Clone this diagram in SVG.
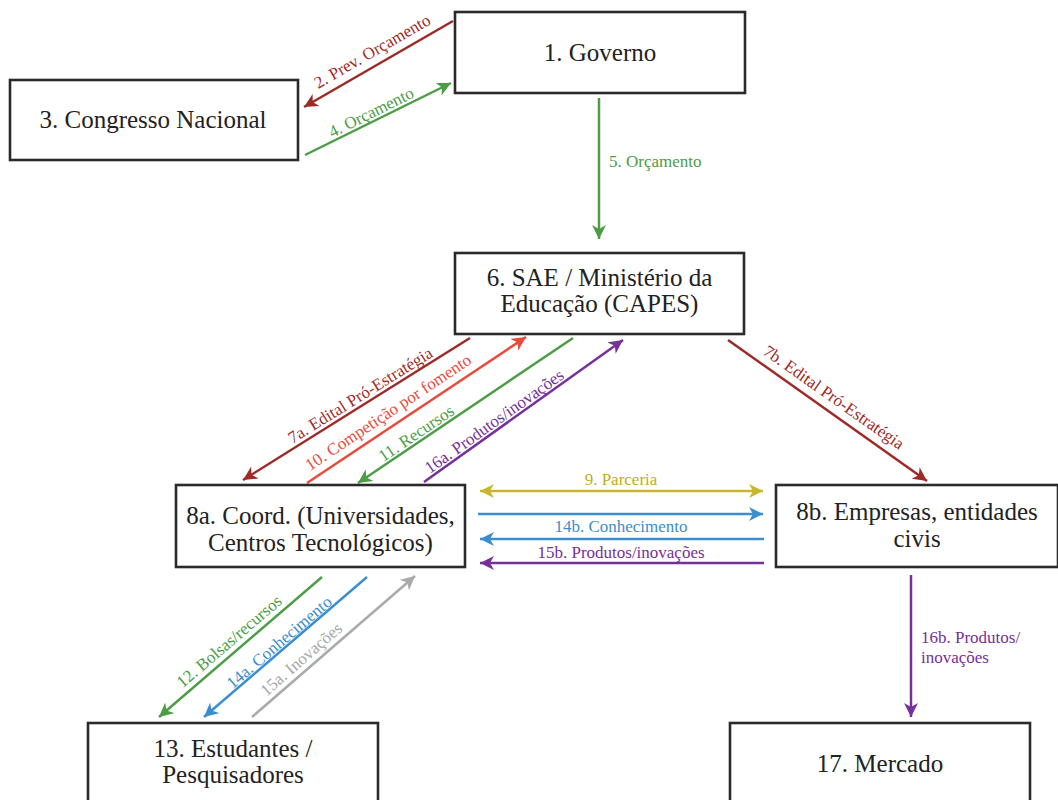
<svg xmlns="http://www.w3.org/2000/svg" width="1058" height="800" viewBox="0 0 1058 800">
<style>
.box{fill:#fff;stroke:#2a2a2a;stroke-width:2.6}
.nt{font-family:'Liberation Serif','Times New Roman',serif;font-size:25px;fill:#222;text-anchor:middle}
.lt{font-family:'Liberation Serif','Times New Roman',serif;font-size:17px}
.c{fill:none;stroke-width:2.5}
.dr{stroke:#9e2a27}.g{stroke:#4c9d45}.r{stroke:#ea4a3c}.p{stroke:#76309a}.b{stroke:#3a8ecf}.y{stroke:#c8b72c}.gr{stroke:#aaaaaa}
.tdr{fill:#9e2a27}.tg{fill:#4c9d45}.tr{fill:#ea4a3c}.tp{fill:#76309a}.tb{fill:#3a8ecf}.ty{fill:#c0ad22}.tgr{fill:#a8a8a8}
</style>
<defs>
<marker id="mdr" markerUnits="userSpaceOnUse" markerWidth="14" markerHeight="14" refX="14" refY="7" orient="auto-start-reverse"><path d="M0,0 L14,7 L0,14 L4,7 Z" fill="#9e2a27"/></marker>
<marker id="mg" markerUnits="userSpaceOnUse" markerWidth="14" markerHeight="14" refX="14" refY="7" orient="auto-start-reverse"><path d="M0,0 L14,7 L0,14 L4,7 Z" fill="#4c9d45"/></marker>
<marker id="mr" markerUnits="userSpaceOnUse" markerWidth="14" markerHeight="14" refX="14" refY="7" orient="auto-start-reverse"><path d="M0,0 L14,7 L0,14 L4,7 Z" fill="#ea4a3c"/></marker>
<marker id="mp" markerUnits="userSpaceOnUse" markerWidth="14" markerHeight="14" refX="14" refY="7" orient="auto-start-reverse"><path d="M0,0 L14,7 L0,14 L4,7 Z" fill="#76309a"/></marker>
<marker id="mb" markerUnits="userSpaceOnUse" markerWidth="14" markerHeight="14" refX="14" refY="7" orient="auto-start-reverse"><path d="M0,0 L14,7 L0,14 L4,7 Z" fill="#3a8ecf"/></marker>
<marker id="my" markerUnits="userSpaceOnUse" markerWidth="14" markerHeight="14" refX="14" refY="7" orient="auto-start-reverse"><path d="M0,0 L14,7 L0,14 L4,7 Z" fill="#c8b72c"/></marker>
<marker id="mgr" markerUnits="userSpaceOnUse" markerWidth="14" markerHeight="14" refX="14" refY="7" orient="auto-start-reverse"><path d="M0,0 L14,7 L0,14 L4,7 Z" fill="#aaaaaa"/></marker>
</defs>
<rect width="1058" height="800" fill="#fff"/>

<g id="connectors">
<line class="c dr" x1="453" y1="21" x2="304" y2="107" marker-end="url(#mdr)"/>
<text class="lt tdr" transform="translate(372,51) rotate(-30)" text-anchor="middle" dy="0.35em">2. Prev. Orçamento</text>
<line class="c g" x1="305" y1="155" x2="451" y2="83" marker-end="url(#mg)"/>
<text class="lt tg" transform="translate(371,112) rotate(-26.4)" text-anchor="middle" dy="0.35em">4. Orçamento</text>
<line class="c g" x1="599" y1="98" x2="599" y2="239" marker-end="url(#mg)"/>
<text class="lt tg" x="609" y="167">5. Orçamento</text>

<line class="c dr" x1="470" y1="338" x2="243" y2="480" marker-end="url(#mdr)"/>
<text class="lt tdr" transform="translate(360,395) rotate(-31.9)" text-anchor="middle" dy="0.35em">7a. Edital Pró-Estratégia</text>
<line class="c r" x1="307" y1="483" x2="526" y2="337" marker-end="url(#mr)"/>
<text class="lt tr" transform="translate(388,412) rotate(-33.7)" text-anchor="middle" dy="0.35em">10. Competição por fomento</text>
<line class="c g" x1="573" y1="338" x2="358" y2="483" marker-end="url(#mg)"/>
<text class="lt tg" transform="translate(416,433) rotate(-34)" text-anchor="middle" dy="0.35em">11. Recursos</text>
<line class="c p" x1="424" y1="482" x2="623" y2="340" marker-end="url(#mp)"/>
<text class="lt tp" transform="translate(494,421) rotate(-35.5)" text-anchor="middle" dy="0.35em">16a. Produtos/inovações</text>
<line class="c dr" x1="728" y1="340" x2="927" y2="481" marker-end="url(#mdr)"/>
<text class="lt tdr" transform="translate(834,397) rotate(35.1)" text-anchor="middle" dy="0.35em">7b. Edital Pró-Estratégia</text>

<line class="c y" x1="480" y1="491" x2="763" y2="491" marker-start="url(#my)" marker-end="url(#my)"/>
<text class="lt ty" x="621" y="485" text-anchor="middle">9. Parceria</text>
<line class="c b" x1="478" y1="514" x2="763" y2="514" marker-end="url(#mb)"/>
<line class="c b" x1="764" y1="539" x2="480" y2="539" marker-end="url(#mb)"/>
<text class="lt tb" x="621" y="532" text-anchor="middle">14b. Conhecimento</text>
<line class="c p" x1="764" y1="563" x2="480" y2="563" marker-end="url(#mp)"/>
<text class="lt tp" x="621" y="558" text-anchor="middle">15b. Produtos/inovações</text>

<line class="c g" x1="322" y1="577" x2="159" y2="717" marker-end="url(#mg)"/>
<text class="lt tg" transform="translate(229,641) rotate(-40.5)" text-anchor="middle" dy="0.35em">12. Bolsas/recursos</text>
<line class="c b" x1="367" y1="577" x2="204" y2="717" marker-end="url(#mb)"/>
<text class="lt tb" transform="translate(279,642) rotate(-40.5)" text-anchor="middle" dy="0.35em">14a. Conhecimento</text>
<line class="c gr" x1="252" y1="717" x2="415" y2="576" marker-end="url(#mgr)"/>
<text class="lt tgr" transform="translate(301,659) rotate(-41)" text-anchor="middle" dy="0.35em">15a. Inovações</text>

<line class="c p" x1="911" y1="575" x2="911" y2="717" marker-end="url(#mp)"/>
<text class="lt tp" x="921" y="643">16b. Produtos/</text>
<text class="lt tp" x="921" y="663">inovações</text>
</g>

<g id="n1"><rect class="box" x="455" y="12" width="290" height="81"/><text class="nt" x="600" y="61">1. Governo</text></g>
<g id="n3"><rect class="box" x="10" y="80" width="288" height="80"/><text class="nt" x="153" y="128">3. Congresso Nacional</text></g>
<g id="n6"><rect class="box" x="455" y="253" width="289" height="81"/><text class="nt" x="599.5" y="286">6. SAE / Ministério da</text><text class="nt" x="599.5" y="312">Educação (CAPES)</text></g>
<g id="n8a"><rect class="box" x="176" y="485" width="289" height="82"/><text class="nt" x="320.5" y="524">8a. Coord. (Universidades,</text><text class="nt" x="320.5" y="551">Centros Tecnológicos)</text></g>
<g id="n8b"><rect class="box" x="776" y="485" width="282" height="82"/><text class="nt" x="917" y="520">8b. Empresas, entidades</text><text class="nt" x="917" y="547">civis</text></g>
<g id="n13"><rect class="box" x="88" y="723" width="290" height="90"/><text class="nt" x="233" y="757">13. Estudantes /</text><text class="nt" x="233" y="783">Pesquisadores</text></g>
<g id="n17"><rect class="box" x="730" y="723" width="300" height="90"/><text class="nt" x="880" y="772">17. Mercado</text></g>
</svg>
